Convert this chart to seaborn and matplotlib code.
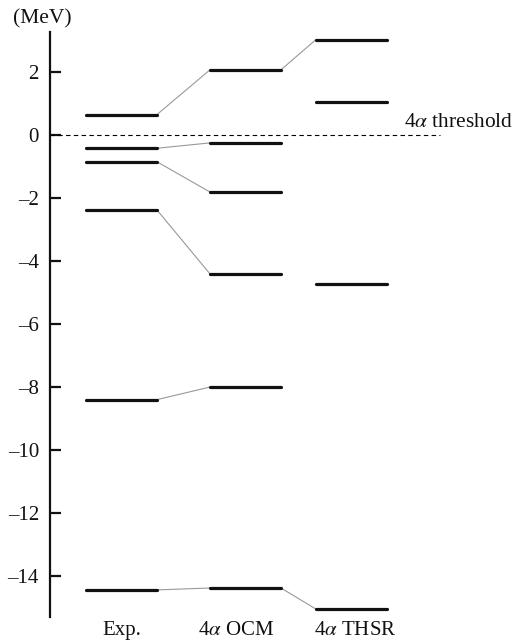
import matplotlib
matplotlib.use("Agg")
import matplotlib.pyplot as plt
import seaborn as sns
import pandas as pd

# ---- data ----
columns = ["Exp.", r"4$\alpha$ OCM", r"4$\alpha$ THSR"]
exp_levels = [0.65, -0.42, -0.85, -2.38, -8.4, -14.44]
ocm_levels = [2.07, -0.25, -1.81, -4.41, -8.0, -14.38]
thsr_levels = [3.03, 1.04, -4.72, -15.05]
# connections (index in left column, index in right column)
exp_ocm_links = [(0, 0), (1, 1), (2, 2), (3, 3), (4, 4), (5, 5)]
ocm_thsr_links = [(0, 0), (5, 3)]
yticks = [2, 0, -2, -4, -6, -8, -10, -12, -14]
threshold_label = r"4$\alpha$ threshold"
unit_label = "(MeV)"

# ---- layout (pixel-like x coordinates) ----
col_start = [86, 210, 316]
col_width = 71
label_x = [122, 236, 355]

sns.set_theme(style="white")
plt.rcParams["font.family"] = ["Liberation Serif", "DejaVu Serif"]
plt.rcParams["mathtext.fontset"] = "stix"

fig = plt.figure(figsize=(5.14, 6.44), dpi=100)
ax = fig.add_axes([50 / 514, 1 - 617 / 644, 1 - 50 / 514, (617 - 32) / 644])

levels = [exp_levels, ocm_levels, thsr_levels]
rows = []
uid = 0
for c, lv in enumerate(levels):
    for e in lv:
        rows.append({"x": col_start[c], "y": e, "u": uid})
        rows.append({"x": col_start[c] + col_width, "y": e, "u": uid})
        uid += 1
bars = pd.DataFrame(rows)

rows = []
uid = 0
for (a, b), links in [((0, 1), exp_ocm_links), ((1, 2), ocm_thsr_links)]:
    for i, j in links:
        rows.append({"x": col_start[a] + col_width, "y": levels[a][i], "u": uid})
        rows.append({"x": col_start[b], "y": levels[b][j], "u": uid})
        uid += 1
links_df = pd.DataFrame(rows)

sns.lineplot(data=links_df, x="x", y="y", units="u", estimator=None,
             color="#999999", lw=0.8, ax=ax, sort=False)
sns.lineplot(data=bars, x="x", y="y", units="u", estimator=None,
             color="#111111", lw=2.3, ax=ax, sort=False)

ax.axhline(0, xmin=0, xmax=(440 - 50) / (514 - 50), color="black",
           lw=0.8, ls=(0, (4, 3)))

ax.set_xlim(50, 514)
ax.set_ylim(-15.3, 3.27)
for s in ["top", "right", "bottom"]:
    ax.spines[s].set_visible(False)
ax.spines["left"].set_color("#111111")
ax.spines["left"].set_linewidth(1.6)

ax.set_yticks(yticks)
ax.set_yticklabels([str(t).replace("-", "\u2013") for t in yticks])
ax.tick_params(axis="y", direction="in", length=8, width=1.6,
               labelsize=15, pad=8, left=True, colors="#111111")
ax.set_xticks(label_x)
ax.set_xticklabels(columns)
ax.tick_params(axis="x", length=0, labelsize=15, pad=3, colors="#111111")
ax.set_xlabel("")
ax.set_ylabel("")
ax.grid(False)

ax.text(404, 0.25, threshold_label, fontsize=15.4, ha="left", va="baseline",
        color="#111111", clip_on=False)
fig.text(42 / 514, 1 - 19 / 644, unit_label, fontsize=15.5, ha="center",
         va="center", color="#111111")

fig.savefig("out.png", dpi=100)
